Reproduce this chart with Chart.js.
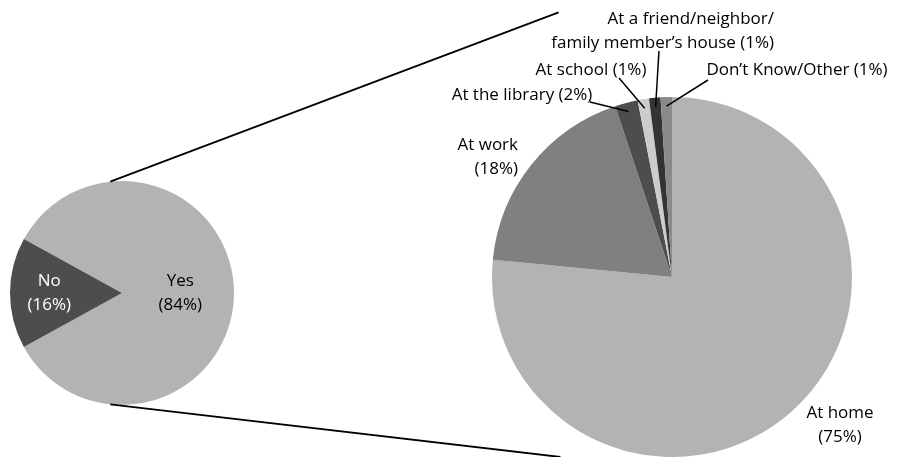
<!DOCTYPE html>
<html>
<head>
<meta charset="utf-8">
<script src="https://cdn.jsdelivr.net/npm/chart.js@4.4.1/dist/chart.umd.min.js"></script>
<style>
  html, body { margin: 0; padding: 0; background: #ffffff; }
  #wrap { position: relative; width: 899px; height: 457px; overflow: hidden; }
  #wrap canvas { position: absolute; left: 0; top: 0; }
</style>
</head>
<body>
<div id="wrap">
  <canvas id="primary" width="899" height="457"></canvas>
  <canvas id="secondary" width="899" height="457"></canvas>
</div>
<script>
// Main question: uses the internet?
const primaryLabels = ['Yes', 'No'];
const primaryValues = [84, 16];

// Where they go online (share of all respondents)
const secondaryLabels = [
  'At home',
  'At work',
  'At the library',
  'At school',
  'At a friend/neighbor/\nfamily member\u2019s house',
  'Don\u2019t Know/Other'
];
const secondaryValues = [75, 18, 2, 1, 1, 1];

const FONT = '17px "Open Sans", Lato, sans-serif';

const primaryColors = ['#b3b3b3', '#4d4d4d'];
const primaryTextColors = ['#000000', '#ffffff'];
const secondaryColors = ['#b3b3b3', '#808080', '#4d4d4d', '#cccccc', '#333333', '#8a8a8a'];

// Label placement for the small pie: offsets from the pie centre (in radii)
const primaryLabelPos = [ { dx: 0.52, dy: 0 }, { dx: -0.65, dy: 0 } ];

// Label placement for the big pie: offsets from its centre in px,
// whether the percentage goes on its own line, alignment, and an optional leader start
const secondaryLabelPos = [
  { dx: 168, dy: 148, pctLine: true, align: 'center' },
  { dx: -154, dy: -120, pctLine: true, align: 'right' },
  { dx: -150, dy: -182, pctLine: false, align: 'center', lead: [-82, -175] },
  { dx: -81, dy: -207, pctLine: false, align: 'center', lead: [-53, -199] },
  { dx: 102, dy: -246, pctLine: false, align: 'right', lead: [-13, -226] },
  { dx: 125, dy: -207, pctLine: false, align: 'center', lead: [36, -197] }
];

function labelLines(name, value, pctLine) {
  const pct = '(' + value + '%)';
  const parts = name.split('\n');
  if (pctLine) return parts.concat([pct]);
  parts[parts.length - 1] += ' ' + pct;
  return parts;
}

function drawBlock(ctx, lines, x, yCenter, align, color) {
  const lh = 23.5;
  ctx.save();
  ctx.font = FONT;
  ctx.fillStyle = color;
  ctx.textAlign = align;
  ctx.textBaseline = 'middle';
  const y0 = yCenter - (lines.length - 1) * lh / 2;
  lines.forEach((t, i) => ctx.fillText(t, x, y0 + i * lh));
  ctx.restore();
}

// Rotate the small pie so the "No" slice is centred on its left side
const primaryTotal = primaryValues.reduce((a, b) => a + b, 0);
const noMid = (primaryValues[0] + primaryValues[1] / 2) / primaryTotal * 360;
const primaryRotation = 270 - noMid;

const primaryLabelPlugin = {
  id: 'primaryLabels',
  afterDraw(chart) {
    const arc = chart.getDatasetMeta(0).data[0];
    const r = arc.outerRadius;
    primaryLabels.forEach((name, i) => {
      const p = primaryLabelPos[i];
      drawBlock(chart.ctx, [name, '(' + primaryValues[i] + '%)'],
        arc.x + p.dx * r, arc.y + p.dy * r, 'center', primaryTextColors[i]);
    });
  }
};

const secondaryLabelPlugin = {
  id: 'secondaryLabels',
  afterDraw(chart) {
    const ctx = chart.ctx;
    const meta = chart.getDatasetMeta(0);
    const c = meta.data[0];
    const R = c.outerRadius;

    // Connector lines from the small pie towards the big pie
    const left = window.primaryChart.getDatasetMeta(0).data[0];
    const rL = left.outerRadius;
    const a1 = -96 * Math.PI / 180, a2 = 96 * Math.PI / 180;
    ctx.save();
    ctx.strokeStyle = '#000000';
    ctx.lineWidth = 1.8;
    ctx.beginPath();
    ctx.moveTo(left.x + rL * Math.cos(a1), left.y + rL * Math.sin(a1));
    ctx.lineTo(c.x - 0.63 * R, c.y - 1.47 * R);
    ctx.moveTo(left.x + rL * Math.cos(a2), left.y + rL * Math.sin(a2));
    ctx.lineTo(c.x - 0.62 * R, c.y + 1.0 * R);
    ctx.stroke();
    ctx.restore();

    secondaryLabels.forEach((name, i) => {
      const p = secondaryLabelPos[i];
      const arc = meta.data[i];
      if (p.lead) {
        const mid = (arc.startAngle + arc.endAngle) / 2;
        ctx.save();
        ctx.strokeStyle = '#000000';
        ctx.lineWidth = 1.5;
        ctx.beginPath();
        ctx.moveTo(c.x + p.lead[0], c.y + p.lead[1]);
        ctx.lineTo(c.x + 0.95 * R * Math.cos(mid), c.y + 0.95 * R * Math.sin(mid));
        ctx.stroke();
        ctx.restore();
      }
      drawBlock(ctx, labelLines(name, secondaryValues[i], p.pctLine),
        c.x + p.dx, c.y + p.dy, p.align, '#000000');
    });
  }
};

const commonOptions = {
  responsive: false,
  animation: false,
  events: [],
  plugins: { legend: { display: false }, tooltip: { enabled: false } }
};

window.primaryChart = new Chart(document.getElementById('primary'), {
  type: 'pie',
  data: {
    labels: primaryLabels,
    datasets: [{ data: primaryValues, backgroundColor: primaryColors, borderWidth: 0 }]
  },
  options: Object.assign({}, commonOptions, {
    rotation: primaryRotation,
    layout: { padding: { left: 10, top: 181, right: 665, bottom: 52 } }
  }),
  plugins: [primaryLabelPlugin]
});

window.secondaryChart = new Chart(document.getElementById('secondary'), {
  type: 'pie',
  data: {
    labels: secondaryLabels,
    datasets: [{ data: secondaryValues, backgroundColor: secondaryColors, borderWidth: 0 }]
  },
  options: Object.assign({}, commonOptions, {
    rotation: 0,
    layout: { padding: { left: 492, top: 97, right: 47, bottom: 0 } }
  }),
  plugins: [secondaryLabelPlugin]
});
</script>
</body>
</html>
